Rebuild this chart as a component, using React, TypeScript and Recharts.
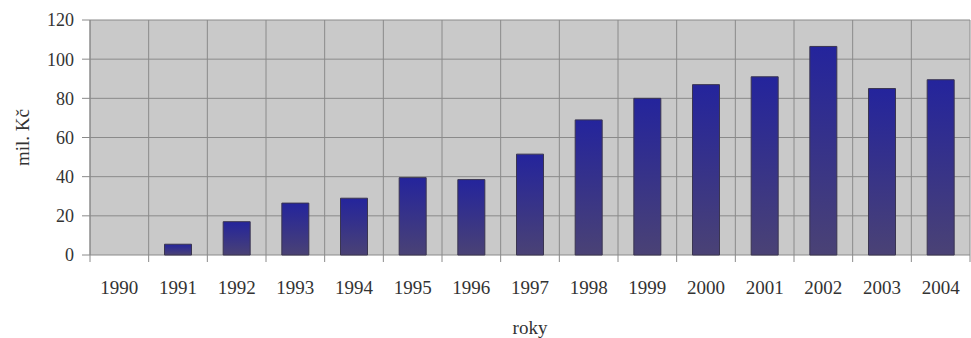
import React from 'react';
import { BarChart, Bar, XAxis, YAxis, CartesianGrid } from 'recharts';

const years = ['1990','1991','1992','1993','1994','1995','1996','1997','1998','1999','2000','2001','2002','2003','2004'];
const values = [0, 5.5, 17, 26.5, 29, 39.5, 38.5, 51.5, 69, 80, 87, 91, 106.5, 85, 89.5];
const yTicks = [0, 20, 40, 60, 80, 100, 120];

const data = years.map((y, i) => ({ year: y, value: values[i] }));

const font = '"Liberation Serif", "Times New Roman", serif';
const textColor = '#333333';
const gridColor = '#8a8a8a';

const CHART_W = 971;
const Y_AXIS_W = 90;
const RIGHT_M = 1;
const X_TICK_SIZE = 6;
const X_TICK_MARGIN = 20;
const step = (CHART_W - Y_AXIS_W - RIGHT_M) / years.length;

const verticalGen = (props: any) => {
  const off = props.offset;
  const n = years.length;
  const out: number[] = [];
  for (let i = 0; i <= n; i++) out.push(off.left + (i * off.width) / n);
  return out;
};

const XTick = (props: any) => {
  const { x, y, payload, index } = props;
  const axisY = y - X_TICK_SIZE - X_TICK_MARGIN;
  const last = index === years.length - 1;
  return (
    <g>
      <line x1={x - step / 2} x2={x - step / 2} y1={axisY} y2={axisY + 7} stroke={gridColor} />
      {last && <line x1={x + step / 2} x2={x + step / 2} y1={axisY} y2={axisY + 7} stroke={gridColor} />}
      <text x={x} y={y} dy="0.71em" textAnchor="middle" fill={textColor} fontSize={19} fontFamily={font}>
        {payload.value}
      </text>
    </g>
  );
};

export default function App() {
  return (
    <div style={{ position: 'absolute', left: 0, top: 0, background: '#ffffff' }}>
      <BarChart
        width={CHART_W}
        height={338}
        data={data}
        margin={{ top: 20, right: RIGHT_M, bottom: 0, left: 0 }}
        barCategoryGap="27%"
      >
        <defs>
          <linearGradient id="barGrad" x1="0" y1="0" x2="0" y2="1">
            <stop offset="0%" stopColor="#24249c" />
            <stop offset="100%" stopColor="#4a4275" />
          </linearGradient>
        </defs>
        <CartesianGrid
          stroke={gridColor}
          strokeWidth={1}
          fill="#c9c9c9"
          fillOpacity={1}
          verticalCoordinatesGenerator={verticalGen}
        />
        <XAxis
          dataKey="year"
          tickLine={false}
          axisLine={false}
          tickSize={X_TICK_SIZE}
          tickMargin={X_TICK_MARGIN}
          height={83}
          interval={0}
          tick={<XTick />}
          label={{ value: 'roky', position: 'insideBottom', offset: 4, fill: textColor, fontSize: 19, fontFamily: font }}
        />
        <YAxis
          domain={[0, 120]}
          ticks={yTicks}
          width={Y_AXIS_W}
          tickSize={8}
          tickMargin={8}
          tickLine={{ stroke: gridColor }}
          axisLine={{ stroke: gridColor }}
          tick={{ fill: textColor, fontSize: 18, fontFamily: font }}
          label={{ value: 'mil. Kč', angle: -90, position: 'center', dx: -23, fill: textColor, fontSize: 19, fontFamily: font }}
          interval={0}
        />
        <Bar
          dataKey="value"
          fill="url(#barGrad)"
          stroke="#3a3550"
          strokeWidth={1}
          isAnimationActive={false}
        />
      </BarChart>
    </div>
  );
}
